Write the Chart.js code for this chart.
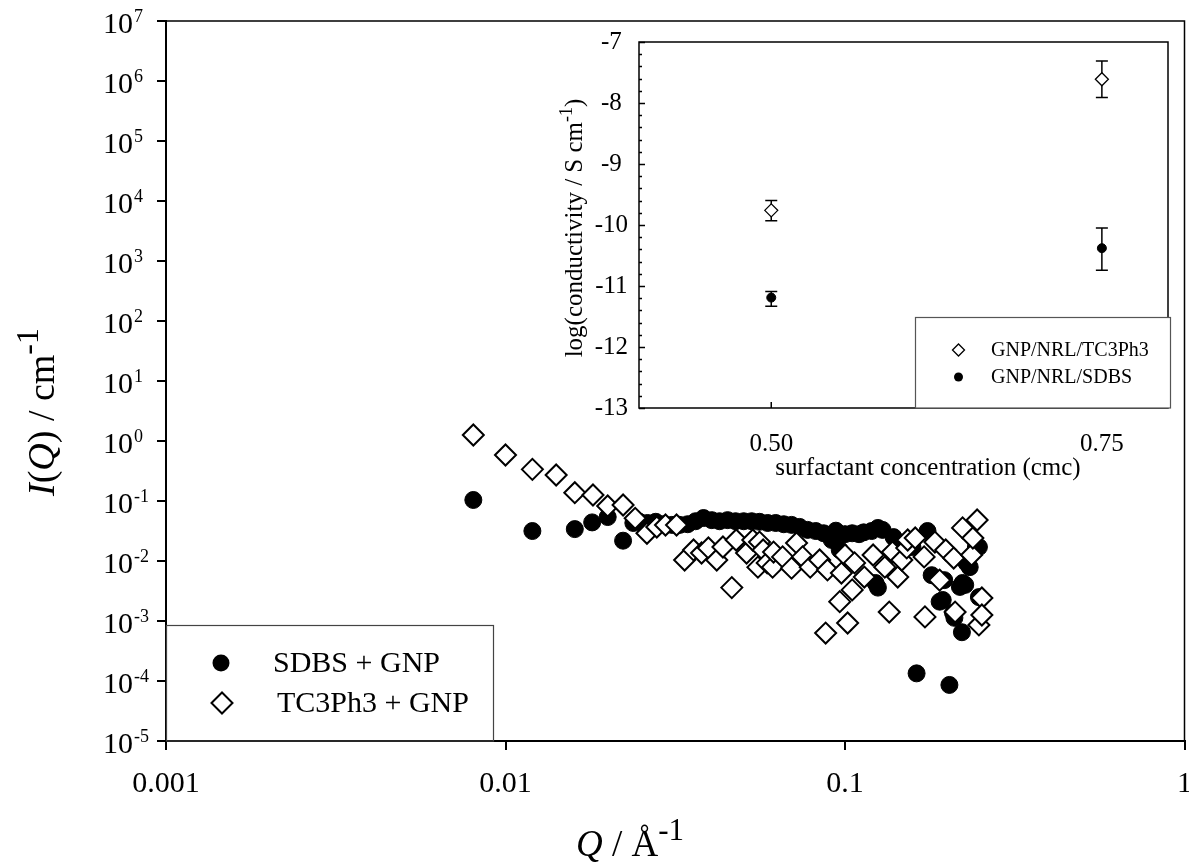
<!DOCTYPE html>
<html>
<head>
<meta charset="utf-8">
<script src="https://cdn.jsdelivr.net/npm/chart.js@4.4.1/dist/chart.umd.min.js"></script>
<style>
  body { margin: 0; background: #fff; overflow: hidden; }
  #wrap { position: relative; width: 1189px; height: 865px; overflow: hidden; }
  #main { position: absolute; left: 0; top: 0; }
  #inset { position: absolute; left: 520px; top: 20px; }
</style>
</head>
<body>
<div id="wrap">
  <canvas id="main" width="1197" height="865"></canvas>
  <canvas id="inset" width="669" height="470"></canvas>
</div>
<script>
// main plot: SANS intensity vs Q
const qTicks = [0.001, 0.01, 0.1, 1];
const iExponents = [-5, -4, -3, -2, -1, 0, 1, 2, 3, 4, 5, 6, 7];

const sdbsQ = [0.00804, 0.0120, 0.0160, 0.0180, 0.0200, 0.0222, 0.0238, 0.0248, 0.0262, 0.0277,
  0.0292, 0.0309, 0.0326, 0.0344, 0.0363, 0.0383, 0.0405, 0.0427, 0.0451, 0.0476,
  0.0503, 0.0531, 0.0560, 0.0592, 0.0625, 0.0660, 0.0696, 0.0735, 0.0776, 0.0820,
  0.0865, 0.0914, 0.0940, 0.0965, 0.100, 0.105, 0.110, 0.1135, 0.1198, 0.123,
  0.125, 0.125, 0.129, 0.139, 0.149, 0.158, 0.1625, 0.175, 0.180, 0.190,
  0.194, 0.196, 0.203, 0.208, 0.210, 0.218, 0.221, 0.222, 0.226, 0.228,
  0.233, 0.243, 0.248, 0.248];
const sdbsI = [0.104, 0.0316, 0.034, 0.044, 0.054, 0.0218, 0.043, 0.045, 0.043, 0.045,
  0.041, 0.040, 0.040, 0.041, 0.046, 0.052, 0.048, 0.046, 0.048, 0.046,
  0.046, 0.046, 0.045, 0.043, 0.043, 0.041, 0.040, 0.037, 0.033, 0.0316,
  0.029, 0.0224, 0.032, 0.0153, 0.028, 0.029, 0.028, 0.030, 0.0316, 0.0043,
  0.0355, 0.0036, 0.033, 0.025, 0.020, 0.0171, 0.000134, 0.0316, 0.0058, 0.0021,
  0.00224, 0.0048, 0.000086, 0.00137, 0.00113, 0.0037, 0.00065, 0.0043, 0.004, 0.0093,
  0.0079, 0.0171, 0.0171, 0.0025];

const tcQ = [0.00804, 0.0100, 0.0120, 0.0141, 0.0160, 0.0181, 0.0200, 0.0222, 0.0241, 0.0261,
  0.0279, 0.0296, 0.0319, 0.0337, 0.0358, 0.0378, 0.0396, 0.0419, 0.0437, 0.0464,
  0.0478, 0.0513, 0.0535, 0.0554, 0.0560, 0.0574, 0.0590, 0.0612, 0.0616, 0.0655,
  0.0696, 0.0720, 0.0750, 0.0790, 0.0842, 0.0877, 0.0888, 0.0965, 0.0976, 0.100,
  0.1018, 0.105, 0.1067, 0.114, 0.121, 0.131, 0.135, 0.138, 0.143, 0.147,
  0.152, 0.153, 0.161, 0.171, 0.172, 0.184, 0.190, 0.198, 0.209, 0.211,
  0.222, 0.236, 0.238, 0.245, 0.248, 0.253, 0.253];
const tcI = [1.26, 0.585, 0.337, 0.271, 0.1375, 0.126, 0.0826, 0.0858, 0.0515, 0.029,
  0.0369, 0.0398, 0.0398, 0.0104, 0.0153, 0.0136, 0.0165, 0.0104, 0.0171, 0.0036,
  0.0224, 0.0136, 0.0224, 0.0079, 0.0207, 0.0153, 0.0093, 0.0079, 0.0141, 0.0117,
  0.0076, 0.0200, 0.0117, 0.0079, 0.0104, 0.00063, 0.0071, 0.0021, 0.0063, 0.0126,
  0.000926, 0.0033, 0.0093, 0.0054, 0.0126, 0.0079, 0.00141, 0.0141, 0.0054, 0.0104,
  0.0165, 0.0224, 0.0242, 0.0117, 0.00117, 0.0207, 0.0048, 0.0153, 0.0112, 0.00141,
  0.0356, 0.0126, 0.0242, 0.0482, 0.00086, 0.00242, 0.00126];

// inset: conductivity vs surfactant concentration
const insetTicks = [0.50, 0.75];
const insetConc = [0.50, 0.75];
const tc3Cond = [-9.76, -7.61];
const tc3Low = [-9.93, -7.91];
const tc3High = [-9.60, -7.31];
const sdbsCond = [-11.19, -10.38];
const sdbsLow = [-11.33, -10.74];
const sdbsHigh = [-11.09, -10.05];

const FONT = '"Liberation Serif", "Times New Roman", serif';
const toPts = (xs, ys) => xs.map((x, i) => ({ x: x, y: ys[i] }));

// draws text with italic / superscript pieces, centred on x, baseline y
function drawRich(ctx, parts, x, y, size, supScale) {
  const sup = supScale || 0.72;
  const fontOf = p => (p[1] === 'i' ? 'italic ' : '') + (p[1] === 's' ? Math.round(size * sup) : size) + 'px ' + FONT;
  ctx.textAlign = 'left';
  ctx.textBaseline = 'alphabetic';
  let w = 0;
  parts.forEach(p => { ctx.font = fontOf(p); w += ctx.measureText(p[0]).width; });
  let cx = x - w / 2;
  parts.forEach(p => {
    ctx.font = fontOf(p);
    ctx.fillText(p[0], cx, p[1] === 's' ? y - size * 0.42 : y);
    cx += ctx.measureText(p[0]).width;
  });
}

function diamond(ctx, x, y, r) {
  ctx.beginPath();
  ctx.moveTo(x - r, y); ctx.lineTo(x, y - r); ctx.lineTo(x + r, y); ctx.lineTo(x, y + r);
  ctx.closePath();
}

const mainDecor = {
  id: 'mainDecor',
  afterDraw(chart) {
    const ctx = chart.ctx, a = chart.chartArea, xs = chart.scales.x, ys = chart.scales.y;
    ctx.save();
    ctx.strokeStyle = '#000';
    ctx.fillStyle = '#000';
    // top and right frame
    ctx.lineWidth = 1.5;
    ctx.beginPath();
    ctx.moveTo(a.left, a.top); ctx.lineTo(a.right, a.top); ctx.lineTo(a.right, a.bottom);
    ctx.stroke();

    // x tick labels
    ctx.font = '30px ' + FONT;
    ctx.textAlign = 'center';
    ctx.textBaseline = 'middle';
    qTicks.forEach(v => ctx.fillText(String(v), xs.getPixelForValue(v), a.bottom + 43));

    // y tick labels 10^n
    iExponents.forEach(e => {
      const y = ys.getPixelForValue(Number('1e' + e));
      ctx.textBaseline = 'alphabetic';
      ctx.font = '30px ' + FONT;
      ctx.textAlign = 'right';
      ctx.fillText('10', 133, y + 12);
      ctx.font = '18px ' + FONT;
      ctx.textAlign = 'left';
      ctx.fillText(String(e), 134, y + 1);
    });

    // legend
    ctx.strokeStyle = '#444';
    ctx.lineWidth = 1.2;
    ctx.strokeRect(a.left + 0.5, 625.5, 327, a.bottom - 625.5);
    ctx.beginPath();
    ctx.arc(221, 663, 8.5, 0, Math.PI * 2);
    ctx.fill();
    diamond(ctx, 222, 703, 10.5);
    ctx.fillStyle = '#fff';
    ctx.fill();
    ctx.strokeStyle = '#000';
    ctx.lineWidth = 2;
    ctx.stroke();
    ctx.fillStyle = '#000';
    ctx.font = '30px ' + FONT;
    ctx.textAlign = 'left';
    ctx.textBaseline = 'middle';
    ctx.fillText('SDBS + GNP', 273, 664);
    ctx.fillText('TC3Ph3 + GNP', 277, 704);

    // axis titles
    drawRich(ctx, [['Q', 'i'], [' / Å', 'n'], ['-1', 's']], 630, 856, 37, 0.85);
    ctx.translate(54, 412);
    ctx.rotate(-Math.PI / 2);
    drawRich(ctx, [['I', 'i'], ['(', 'n'], ['Q', 'i'], [') / cm', 'n'], ['-1', 's']], 0, 0, 38, 0.85);
    ctx.restore();
  }
};

const axisGrid = { drawOnChartArea: false, tickLength: 9, color: '#000', lineWidth: 2 };

new Chart(document.getElementById('main'), {
  type: 'scatter',
  data: {
    datasets: [{
      label: 'SDBS + GNP',
      data: toPts(sdbsQ, sdbsI),
      pointStyle: 'circle',
      pointRadius: 8.5,
      backgroundColor: '#000',
      borderColor: '#000',
      borderWidth: 1,
      order: 2
    }, {
      label: 'TC3Ph3 + GNP',
      data: toPts(tcQ, tcI),
      pointStyle: 'rectRot',
      pointRadius: 10.5,
      backgroundColor: '#fff',
      borderColor: '#000',
      borderWidth: 2,
      order: 1
    }]
  },
  options: {
    responsive: false,
    animation: false,
    devicePixelRatio: 1,
    layout: { padding: { top: 21, right: 5, left: 0, bottom: 0 } },
    plugins: { legend: { display: false }, tooltip: { enabled: false } },
    scales: {
      x: {
        type: 'logarithmic', min: 0.001, max: 1,
        afterBuildTicks: s => { s.ticks = qTicks.map(v => ({ value: v })); },
        afterFit: s => { s.height = 124; s.paddingLeft = 0; s.paddingRight = 0; },
        grid: axisGrid,
        border: { color: '#000', width: 2 },
        ticks: { display: false, autoSkip: false }
      },
      y: {
        type: 'logarithmic', min: 1e-5, max: 1e7,
        afterBuildTicks: s => { s.ticks = iExponents.map(e => ({ value: Number('1e' + e) })); },
        afterFit: s => { s.width = 166; s.paddingTop = 0; s.paddingBottom = 0; },
        grid: axisGrid,
        border: { color: '#000', width: 2 },
        ticks: { display: false, autoSkip: false }
      }
    }
  },
  plugins: [mainDecor]
});

// inset decorations: frame, inward ticks, error bars, legend, titles
const insetDecor = {
  id: 'insetDecor',
  beforeDatasetsDraw(chart) {
    const ctx = chart.ctx, a = chart.chartArea, xs = chart.scales.x, ys = chart.scales.y;
    ctx.save();
    ctx.strokeStyle = '#000';
    ctx.lineWidth = 1.5;
    ctx.strokeRect(a.left, a.top, a.right - a.left, a.bottom - a.top);
    ctx.beginPath();
    for (let k = 0; k <= 30; k++) {
      const v = -13 + k * 0.2;
      const y = Math.round(ys.getPixelForValue(v)) + 0.5;
      const len = k % 5 === 0 ? 6 : 3;
      ctx.moveTo(a.left, y); ctx.lineTo(a.left + len, y);
    }
    insetTicks.forEach(v => {
      const x = xs.getPixelForValue(v);
      ctx.moveTo(x, a.bottom); ctx.lineTo(x, a.bottom - 6);
    });
    ctx.stroke();

    // error bars
    ctx.lineWidth = 1.5;
    const bars = (low, high) => insetConc.forEach((c, i) => {
      const x = xs.getPixelForValue(c);
      const y1 = ys.getPixelForValue(low[i]), y2 = ys.getPixelForValue(high[i]);
      ctx.beginPath();
      ctx.moveTo(x, y1); ctx.lineTo(x, y2);
      ctx.moveTo(x - 6, y1); ctx.lineTo(x + 6, y1);
      ctx.moveTo(x - 6, y2); ctx.lineTo(x + 6, y2);
      ctx.stroke();
    });
    bars(tc3Low, tc3High);
    bars(sdbsLow, sdbsHigh);
    ctx.restore();
  },
  afterDraw(chart) {
    const ctx = chart.ctx, a = chart.chartArea;
    ctx.save();
    // legend box
    ctx.fillStyle = '#fff';
    ctx.fillRect(395, 297, 256, a.bottom - 297);
    ctx.strokeStyle = '#555';
    ctx.lineWidth = 1.2;
    ctx.strokeRect(395.5, 297.5, 255, a.bottom - 297.5);
    diamond(ctx, 438.5, 330, 6);
    ctx.strokeStyle = '#000';
    ctx.lineWidth = 1.3;
    ctx.stroke();
    ctx.fillStyle = '#000';
    ctx.beginPath();
    ctx.arc(438.5, 357, 4.5, 0, Math.PI * 2);
    ctx.fill();
    ctx.font = '20px ' + FONT;
    ctx.textAlign = 'left';
    ctx.textBaseline = 'middle';
    ctx.fillText('GNP/NRL/TC3Ph3', 471, 331);
    ctx.fillText('GNP/NRL/SDBS', 471, 358);

    // titles
    drawRich(ctx, [['surfactant concentration (cmc)', 'n']], 408, 455, 25);
    ctx.translate(62, 208);
    ctx.rotate(-Math.PI / 2);
    drawRich(ctx, [['log(conductivity / S cm', 'n'], ['-1', 's'], [')', 'n']], 0, 0, 25);
    ctx.restore();
  }
};

new Chart(document.getElementById('inset'), {
  type: 'scatter',
  data: {
    datasets: [{
      label: 'GNP/NRL/TC3Ph3',
      data: toPts(insetConc, tc3Cond),
      pointStyle: 'rectRot',
      pointRadius: 6.5,
      backgroundColor: '#fff',
      borderColor: '#000',
      borderWidth: 1.3
    }, {
      label: 'GNP/NRL/SDBS',
      data: toPts(insetConc, sdbsCond),
      pointStyle: 'circle',
      pointRadius: 4.5,
      backgroundColor: '#000',
      borderColor: '#000',
      borderWidth: 1
    }]
  },
  options: {
    responsive: false,
    animation: false,
    devicePixelRatio: 1,
    layout: { padding: { top: 22, right: 21, left: 0, bottom: 0 } },
    plugins: { legend: { display: false }, tooltip: { enabled: false } },
    scales: {
      x: {
        type: 'linear', min: 0.4, max: 0.8,
        afterBuildTicks: s => { s.ticks = insetTicks.map(v => ({ value: v })); },
        afterFit: s => { s.height = 82; s.paddingLeft = 0; s.paddingRight = 0; },
        grid: { display: false, drawTicks: false },
        border: { display: false },
        ticks: {
          autoSkip: false, maxRotation: 0, padding: 21, color: '#000',
          font: { family: FONT, size: 25 },
          callback: v => v.toFixed(2)
        }
      },
      y: {
        type: 'linear', min: -13, max: -7,
        afterFit: s => { s.width = 119; s.paddingTop = 0; s.paddingBottom = 0; },
        grid: { display: false, drawTicks: false },
        border: { display: false },
        ticks: {
          stepSize: 1, padding: 11, crossAlign: 'center', color: '#000',
          font: { family: FONT, size: 25 }
        }
      }
    }
  },
  plugins: [insetDecor]
});
</script>
</body>
</html>
